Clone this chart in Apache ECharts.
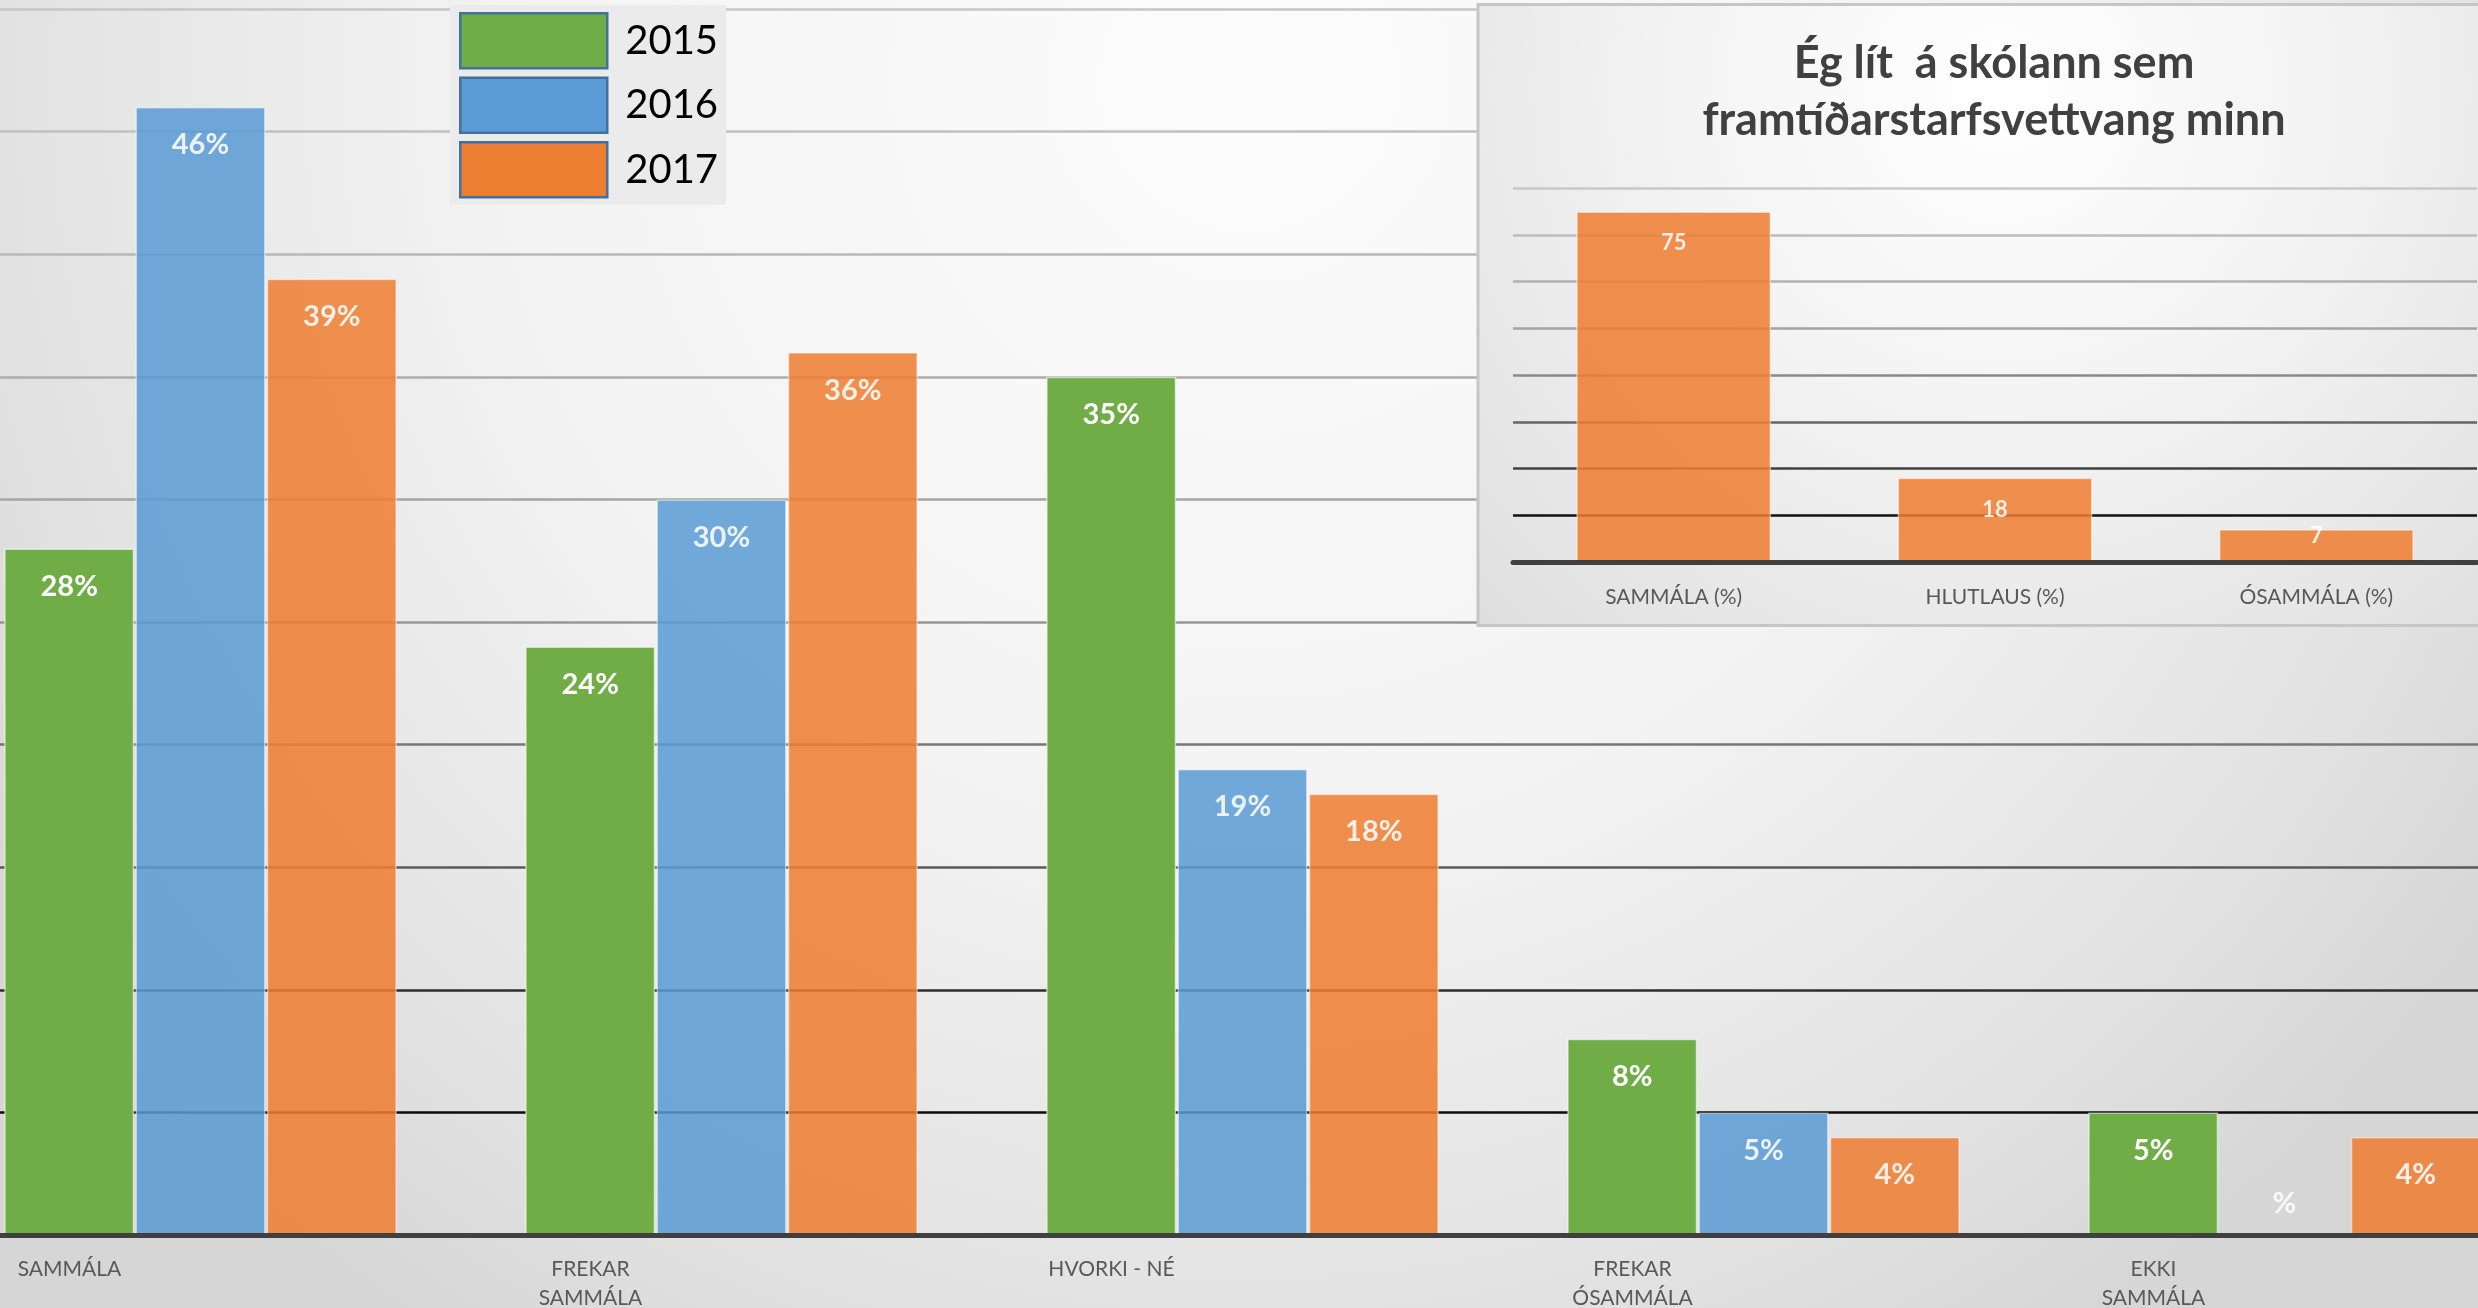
<!DOCTYPE html>
<html>
<head>
<meta charset="utf-8">
<script src="https://cdn.jsdelivr.net/npm/echarts@6/dist/echarts.min.js"></script>
<style>
  html, body { margin: 0; padding: 0; background: #e8e8e8; }
  #chart { width: 2478px; height: 1308px; }
</style>
</head>
<body>
<div id="chart"></div>
<script>
// Survey answers by year (percent of respondents)
const categories = ['SAMMÁLA', 'FREKAR\nSAMMÁLA', 'HVORKI - NÉ', 'FREKAR\nÓSAMMÁLA', 'EKKI\nSAMMÁLA'];
const years = ['2015', '2016', '2017'];
const values2015 = [28, 24, 35, 8, 5];
const values2016 = [46, 30, 19, 5, null];
const values2017 = [39, 36, 18, 4, 4];
const mainMax = 50;
const mainStep = 5;

// Side panel: single question summary
const insetTitle = 'Ég lít  á skólann sem\nframtíðarstarfsvettvang minn';
const insetCategories = ['SAMMÁLA (%)', 'HLUTLAUS (%)', 'ÓSAMMÁLA (%)'];
const insetValues = [75, 18, 7];
const insetMax = 80;
const insetStep = 10;

const FONT = 'Lato, "Open Sans", "Noto Sans", sans-serif';
const GREEN = '#70AD47', BLUE = '#5B9BD5', ORANGE = '#ED7D31';

// Gridlines fade from near-black at the bottom to light grey at the top
const mainGridColors = ['#404040', '#0d0d0d', '#2e2e2e', '#5a5a5a', '#777777', '#979797',
                        '#a5a5a5', '#adadad', '#b8b8b8', '#c0c0c0', '#c6c6c6'];
const insetGridColors = ['#404040', '#111111', '#404040', '#666666', '#8a8a8a',
                         '#a3a3a3', '#b1b1b1', '#bdbdbd', '#c8c8c8'];

const chart = echarts.init(document.getElementById('chart'), null, { renderer: 'canvas' });

const barBorder = { borderColor: 'rgba(255,255,255,0.55)', borderWidth: 1.5 };
const mainLabel = {
  show: true,
  position: 'insideTop',
  distance: 23,
  color: '#ffffff',
  fontFamily: FONT,
  fontWeight: 'bold',
  fontSize: 29,
  lineHeight: 30,
  formatter: p => p.value + '%'
};

function mainData(arr) {
  // an empty answer keeps its slot and shows a bare "%" tag
  return arr.map(v => v == null
    ? { value: 0, label: { position: 'top', distance: 16, formatter: '%' } }
    : v);
}

function mainSeries(name, color, opacity, arr) {
  return {
    name: name,
    type: 'bar',
    xAxisIndex: 0,
    yAxisIndex: 0,
    barWidth: 130,
    barGap: '1%',
    z: 2,
    itemStyle: Object.assign({ color: color, opacity: opacity }, barBorder),
    label: mainLabel,
    data: mainData(arr)
  };
}

const option = {
  animation: false,
  backgroundColor: {
    type: 'radial', x: 1250, y: 80, r: 1500, global: true,
    colorStops: [
      { offset: 0, color: '#fcfcfc' },
      { offset: 0.5, color: '#f3f3f3' },
      { offset: 0.68, color: '#eaeaea' },
      { offset: 0.85, color: '#e1e1e1' },
      { offset: 1, color: '#d6d6d6' }
    ]
  },
  legend: {
    data: years,
    orient: 'vertical',
    left: 450,
    top: 5,
    padding: [7, 8, 6, 9],
    backgroundColor: '#ebebeb',
    itemWidth: 147,
    itemHeight: 55,
    itemGap: 7,
    icon: 'rect',
    selectedMode: false,
    z: 4,
    itemStyle: { borderColor: '#41719C', borderWidth: 2.5, opacity: 1 },
    textStyle: { fontFamily: FONT, fontSize: 40, lineHeight: 42, color: '#000000', padding: [0, 0, 0, 13] }
  },
  grid: [
    { left: -60, right: -67, top: 9, bottom: 73, outerBoundsMode: 'none', containLabel: false },
    { left: 1513, right: 1, top: 188, bottom: 746, outerBoundsMode: 'none', containLabel: false }
  ],
  xAxis: [
    {
      type: 'category',
      gridIndex: 0,
      data: categories,
      z: 3,
      axisLine: { show: true, lineStyle: { color: '#404040', width: 5 } },
      axisTick: { show: false },
      axisLabel: {
        interval: 0,
        margin: 20,
        color: '#595959',
        fontFamily: FONT,
        fontSize: 21,
        lineHeight: 29,
        padding: [0, 262, 0, 0]
      }
    },
    {
      type: 'category',
      gridIndex: 1,
      data: insetCategories,
      z: 8,
      axisLine: { show: true, lineStyle: { color: '#404040', width: 5 } },
      axisTick: { show: false },
      axisLabel: {
        interval: 0,
        margin: 23,
        color: '#595959',
        fontFamily: FONT,
        fontSize: 21,
        lineHeight: 24
      }
    }
  ],
  yAxis: [
    {
      type: 'value',
      gridIndex: 0,
      min: 0,
      max: mainMax,
      interval: mainStep,
      axisLine: { show: false },
      axisTick: { show: false },
      axisLabel: { show: false },
      splitLine: { show: true, lineStyle: { color: mainGridColors, width: 2.5 } }
    },
    {
      type: 'value',
      gridIndex: 1,
      min: 0,
      max: insetMax,
      interval: insetStep,
      z: 6,
      axisLine: { show: false },
      axisTick: { show: false },
      axisLabel: { show: false },
      splitLine: { show: true, lineStyle: { color: insetGridColors, width: 2.5 } }
    }
  ],
  graphic: {
    elements: [
      {
        type: 'rect',
        z: 5,
        shape: { x: 1478, y: 4.5, width: 1100, height: 621 },
        style: {
          fill: {
            type: 'radial', x: 2000, y: 90, r: 950, global: true,
            colorStops: [
              { offset: 0, color: '#ffffff' },
              { offset: 0.35, color: '#f3f3f3' },
              { offset: 0.7, color: '#e3e3e3' },
              { offset: 1, color: '#d3d3d3' }
            ]
          },
          stroke: '#c6c6c6',
          lineWidth: 3
        }
      },
      {
        type: 'text',
        z: 9,
        x: 1994,
        y: 35,
        style: {
          text: insetTitle,
          fill: '#404040',
          font: 'bold 45px ' + FONT,
          lineHeight: 57,
          align: 'center',
          verticalAlign: 'top'
        }
      }
    ]
  },
  series: [
    mainSeries(years[0], GREEN, 1, values2015),
    mainSeries(years[1], BLUE, 0.86, values2016),
    mainSeries(years[2], ORANGE, 0.86, values2017),
    {
      name: 'inset',
      type: 'bar',
      xAxisIndex: 1,
      yAxisIndex: 1,
      barCategoryGap: '39.4%',
      z: 7,
      itemStyle: Object.assign({ color: ORANGE, opacity: 0.86 }, barBorder),
      label: {
        show: true,
        position: 'insideTop',
        distance: 21,
        color: '#ffffff',
        fontFamily: FONT,
        fontWeight: 'bold',
        fontSize: 22,
        lineHeight: 22
      },
      // short bars keep their number pressed against the top edge
      data: insetValues.map(v => v < insetStep
        ? { value: v, label: { distance: 0, lineHeight: 14 } }
        : v)
    }
  ]
};

chart.setOption(option);
</script>
</body>
</html>
